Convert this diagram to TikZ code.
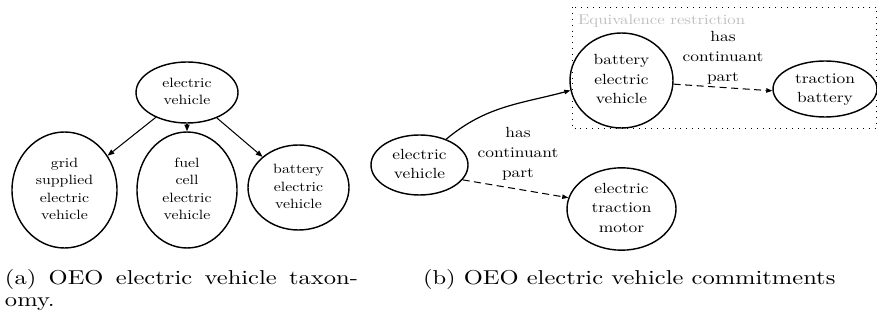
\documentclass[tikz,border=0pt]{standalone}
\usetikzlibrary{shapes.geometric,arrows.meta}
\usepackage{graphicx}

% text inside the left and right graphs, and in the captions
\newcommand\txtL[1]{\scalebox{0.645}[0.55]{\renewcommand\arraystretch{1.09}\begin{tabular}{@{}c@{}}#1\end{tabular}}}
\newcommand\txtR[1]{\scalebox{0.71}[0.6]{\renewcommand\arraystretch{1.1}\begin{tabular}{@{}c@{}}#1\end{tabular}}}
\newcommand\lblR[1]{\scalebox{0.71}[0.6]{\renewcommand\arraystretch{1.14}\begin{tabular}{@{}c@{}}#1\end{tabular}}}
\newcommand\capt[1]{\scalebox{1}[0.82]{#1}}
\newcommand\px{0.408pt}

\definecolor{restrictgray}{RGB}{190,190,190}

\tikzset{
  cls/.style={ellipse, draw, line width=0.58pt, inner sep=0pt},
  isa/.style={line width=0.42pt, -{Triangle[length=2.7pt,width=2.1pt]}},
  part/.style={line width=0.42pt, dash pattern=on 2.9pt off 1.8pt, -{Triangle[length=2.5pt,width=1.8pt]}},
  subj/.style={line width=0.5pt, -{Triangle[length=2.5pt,width=1.8pt]}},
  plain/.style={inner sep=0pt, outer sep=0pt},
}

\begin{document}
\begin{tikzpicture}[x=\px, y=-\px]
\useasboundingbox (0,0) rectangle (877,323);

% ---- (a) taxonomy ----
\node[cls, minimum width=102*\px, minimum height=61*\px] (ev) at (187,92.5) {\txtL{electric\\vehicle}};
\node[cls, minimum width=105*\px, minimum height=116*\px] (gsev) at (64.5,190) {\txtL{grid\\supplied\\electric\\vehicle}};
\node[cls, minimum width=100*\px, minimum height=116*\px] (fcev) at (187,190) {\txtL{fuel\\cell\\electric\\vehicle}};
\node[cls, minimum width=101*\px, minimum height=85*\px] (bev) at (298.5,187.5) {\txtL{battery\\electric\\vehicle}};

\draw[isa] (ev) -- (gsev);
\draw[isa] (ev) -- (fcev);
\draw[isa] (ev) -- (bev);

% ---- (b) commitments ----
\draw[line width=0.4pt, dotted] (572,7) rectangle (876.6,128);
\node[plain, anchor=base west, text=restrictgray] (eqlbl) at (578,25) {\scalebox{0.684}[0.575]{Equivalence restriction}};

\node[cls, minimum width=97*\px, minimum height=60*\px] (rev) at (419.5,165) {\txtR{electric\\vehicle}};
\node[cls, minimum width=103*\px, minimum height=95*\px] (rbev) at (621.5,80.5) {\txtR{battery\\electric\\vehicle}};
\node[cls, minimum width=104*\px, minimum height=56*\px] (tb) at (825,89) {\txtR{traction\\battery}};
\node[cls, minimum width=109*\px, minimum height=82*\px] (etm) at (621.5,209) {\txtR{electric\\traction\\motor}};

\draw[subj] (rev.44) to[out=40, in=195] (rbev.191);
\draw[part] (rev.-19) -- (etm.168);
\draw[part] (rbev.-4) -- (tb.182);

\node[plain] (lbl1) at (518,153.5) {\lblR{has\\continuant\\part}};
\node[plain] (lbl2) at (723,57.5) {\lblR{has\\continuant\\part}};

% ---- captions ----
\node[plain, anchor=base west] (capa1) at (5,285) {\capt{\makebox[144pt][s]{(a) OEO electric vehicle taxon-}}};
\node[plain, anchor=base west] (capa2) at (5,307) {\capt{omy.}};
\node[plain, anchor=base west] (capb) at (423,285) {\capt{(b) OEO electric vehicle commitments}};
\end{tikzpicture}
\end{document}
